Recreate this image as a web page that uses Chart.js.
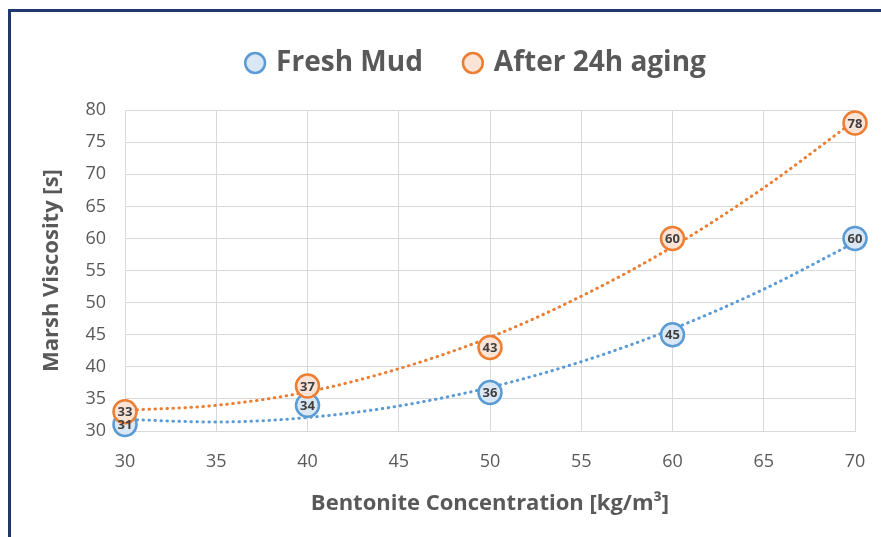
<!DOCTYPE html>
<html>
<head>
<meta charset="utf-8">
<script src="https://cdn.jsdelivr.net/npm/chart.js@4/dist/chart.umd.min.js"></script>
<style>
  html, body { margin: 0; padding: 0; background: #fff; overflow: hidden; }
  #wrap { position: relative; width: 881px; height: 537px; }
  #frame { position: absolute; left: 8px; top: 9px; width: 900px; height: 600px;
           border: 3px solid #1f3870; box-sizing: border-box; }
  #c { position: absolute; left: 0; top: 0; }
</style>
</head>
<body>
<div id="wrap">
  <div id="frame"></div>
  <canvas id="c" width="881" height="537"></canvas>
</div>
<script>
// measured points
const concentration = [30, 40, 50, 60, 70];
const freshMud = [31, 34, 36, 45, 60];
const aged24h = [33, 37, 43, 60, 78];

// dotted trend curves
const trendX = [30, 35, 40, 45, 50, 55, 60, 65, 70];
const freshTrend = [31.8, 31.4, 32.1, 33.9, 36.8, 40.8, 45.9, 52.1, 59.4];
const agedTrend = [33.2, 34.0, 36.1, 39.7, 44.6, 51.0, 58.7, 67.9, 78.4];

const blue = "#5b9bd5", blueFill = "#dae7f4";
const orange = "#ed7d31", orangeFill = "#fbe3d6";
const grey = "#595959";
const font = "'Open Sans', sans-serif";

function pts(xs, ys) { return xs.map((x, i) => ({ x: x, y: ys[i] })); }

// numbers inside the circles
const pointLabels = {
  id: "pointLabels",
  afterDatasetsDraw(chart) {
    const ctx = chart.ctx;
    ctx.save();
    ctx.font = "bold 13px " + font;
    ctx.fillStyle = "#404040";
    ctx.textAlign = "center";
    ctx.textBaseline = "middle";
    chart.data.datasets.forEach((ds, i) => {
      if (!ds.showLabels) return;
      chart.getDatasetMeta(i).data.forEach((el, j) => {
        ctx.fillText(String(ds.data[j].y), el.x, el.y + 1);
      });
    });
    ctx.restore();
  }
};

// legend sits a bit right of the canvas centre
const legendShift = {
  id: "legendShift",
  afterLayout(chart) {
    chart.legend.left += 30;
    chart.legend.right += 30;
    chart.legend.top += 1;
    chart.legend.bottom += 1;
  }
};

new Chart(document.getElementById("c"), {
  type: "scatter",
  data: {
    datasets: [
      { label: "After 24h aging", data: pts(concentration, aged24h), showLabels: true,
        backgroundColor: orangeFill, borderColor: orange, borderWidth: 2.5, clip: false,
        pointRadius: 11.5, pointHoverRadius: 11.5 },
      { label: "Fresh Mud", data: pts(concentration, freshMud), showLabels: true,
        backgroundColor: blueFill, borderColor: blue, borderWidth: 2.5, clip: false,
        pointRadius: 11.5, pointHoverRadius: 11.5 },
      { label: "trend aged", type: "line", data: pts(trendX, agedTrend),
        borderColor: orange, borderWidth: 3, borderDash: [0.5, 5.5], borderCapStyle: "round",
        pointRadius: 0, cubicInterpolationMode: "monotone", fill: false },
      { label: "trend fresh", type: "line", data: pts(trendX, freshTrend),
        borderColor: blue, borderWidth: 3, borderDash: [0.5, 5.5], borderCapStyle: "round",
        pointRadius: 0, cubicInterpolationMode: "monotone", fill: false }
    ]
  },
  options: {
    responsive: false,
    animation: false,
    layout: { padding: { top: 5, left: 39, right: 26, bottom: 0 } },
    plugins: {
      tooltip: { enabled: false },
      legend: {
        position: "top",
        weight: 3000,
        labels: {
          usePointStyle: true,
          boxWidth: 14,
          boxHeight: 14,
          padding: 43,
          color: grey,
          font: { family: font, size: 28, weight: "bold" },
          filter: item => !item.text.startsWith("trend"),
          sort: (a, b) => (a.text === "Fresh Mud" ? -1 : 1) - (b.text === "Fresh Mud" ? -1 : 1)
        }
      },
      // empty title used only as a spacer between legend and plot
      title: { display: true, text: " ", font: { size: 1 }, padding: { top: 0, bottom: 23 } }
    },
    scales: {
      x: {
        type: "linear", min: 30, max: 70,
        afterFit: s => { s.height = 106; s.paddingLeft = 0; s.paddingRight = 0; },
        ticks: { stepSize: 5, color: grey, font: { family: font, size: 18 }, padding: 20 },
        grid: { color: "#d9d9d9", drawTicks: false },
        border: { color: "#d9d9d9" },
        title: { display: true, text: "Bentonite Concentration [kg/m³]", color: grey,
                 font: { family: font, size: 22, weight: "bold" }, padding: { top: 22, bottom: 20 } }
      },
      y: {
        min: 30, max: 80,
        afterFit: s => { s.width = 86; },
        ticks: { stepSize: 5, color: grey, font: { family: font, size: 18 }, padding: 19 },
        grid: { color: "#d9d9d9", drawTicks: false },
        border: { color: "#d9d9d9" },
        title: { display: true, text: "Marsh Viscosity [s]", color: grey,
                 font: { family: font, size: 22, weight: "bold" }, padding: { top: 0, bottom: 0 } }
      }
    }
  },
  plugins: [pointLabels, legendShift]
});
</script>
</body>
</html>
